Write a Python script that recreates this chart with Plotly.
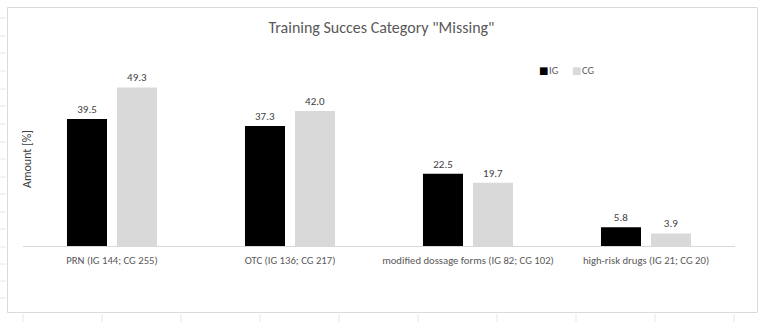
import plotly.graph_objects as go

categories = ["PRN (IG 144; CG 255)", "OTC (IG 136; CG 217)",
              "modified dossage forms (IG 82; CG 102)", "high-risk drugs (IG 21; CG 20)"]
ig_values = [39.5, 37.3, 22.5, 5.8]
cg_values = [49.3, 42.0, 19.7, 3.9]
series_names = ["IG", "CG"]
series_colors = ["#000000", "#d9d9d9"]

W, H = 767, 322
L, R, T, B = 23, 32, 53, 76
PW, PH = W - L - R, H - T - B

def px(x):
    return (x - L) / PW

def py(y):
    return (H - B - y) / PH

FONT = "Carlito, Lato, sans-serif"

fig = go.Figure()
for name, vals, col in zip(series_names, [ig_values, cg_values], series_colors):
    fig.add_trace(go.Bar(name=name, x=categories, y=vals, showlegend=False,
                         marker=dict(color=col, line=dict(width=0)),
                         texttemplate="%{y:.1f}", textposition="outside",
                         textfont=dict(size=11, color="#404040", family=FONT),
                         cliponaxis=False))

shapes = [dict(type="rect", xref="paper", yref="paper",
               x0=px(7.5), x1=px(757.5), y0=py(312.5), y1=py(7.5),
               line=dict(color="#d9d9d9", width=1), fillcolor="rgba(0,0,0,0)", layer="below")]
# spreadsheet cell gridline stubs outside the chart frame
for yy in [18, 36, 53, 71, 89, 106, 124, 142, 159, 177, 194, 212, 229, 247, 264, 281, 298]:
    shapes.append(dict(type="line", xref="paper", yref="paper",
                       x0=px(0), x1=px(6), y0=py(yy), y1=py(yy),
                       line=dict(color="#e6e6e6", width=1)))
for xx in [23, 102, 181, 260, 339, 418, 497, 576, 655, 734]:
    shapes.append(dict(type="line", xref="paper", yref="paper",
                       x0=px(xx), x1=px(xx), y0=py(314), y1=py(322),
                       line=dict(color="#e6e6e6", width=1)))

annotations = [dict(text="Amount [%]", xref="paper", yref="paper",
                    x=px(27), y=py(159), textangle=-90, showarrow=False,
                    xanchor="center", yanchor="middle",
                    font=dict(size=12, color="#404040", family=FONT))]
# legend entries (small square + label), as in the original
for name, col, sx in zip(series_names, series_colors, [543, 576]):
    annotations.append(dict(text="■", xref="paper", yref="paper", x=px(sx), y=py(70),
                            showarrow=False, xanchor="center", yanchor="middle",
                            font=dict(size=10, color=col, family="DejaVu Sans")))
    annotations.append(dict(text=name, xref="paper", yref="paper", x=px(sx + 4), y=py(70),
                            showarrow=False, xanchor="left", yanchor="middle",
                            font=dict(size=10.5, color="#595959", family=FONT)))

fig.update_layout(
    width=W, height=H,
    margin=dict(l=L, r=R, t=T, b=B),
    paper_bgcolor="white", plot_bgcolor="white",
    barmode="group", bargap=0.438, bargroupgap=0.2,
    showlegend=False,
    title=dict(text='Training Succes Category "Missing"', x=381.5 / W, xanchor="center",
               y=1 - 27 / H, yanchor="middle",
               font=dict(size=16, color="#595959", family=FONT)),
    xaxis=dict(showline=True, linecolor="#d9d9d9", linewidth=1, ticks="",
               tickfont=dict(size=10.7, color="#595959", family=FONT),
               ticklabelstandoff=4,
               showgrid=False, zeroline=False),
    yaxis=dict(range=[0, 60], visible=False, showgrid=False, zeroline=False),
    shapes=shapes,
    annotations=annotations,
)

fig.write_html("out.html")
